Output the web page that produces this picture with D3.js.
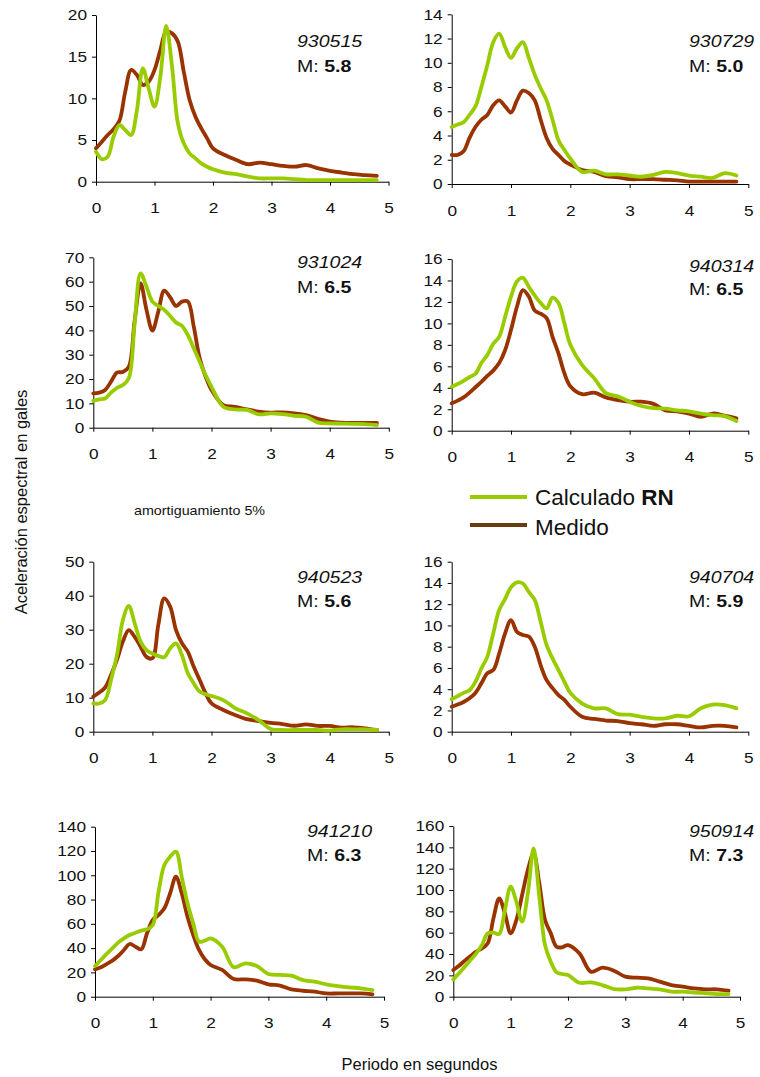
<!DOCTYPE html>
<html>
<head>
<meta charset="utf-8">
<script src="https://cdn.jsdelivr.net/npm/d3@7"></script>
<style>
  body { margin: 0; background: #fff; }
  svg { display: block; }
  text { font-family: "Liberation Sans", Arial, Helvetica, sans-serif; fill: #111; }
</style>
</head>
<body>
<svg id="chart" width="760" height="1077"></svg>
<script>
// ---------------- DATA ----------------
const periods = [0,0.1,0.2,0.3,0.4,0.5,0.6,0.7,0.8,0.9,1.0,1.1,1.2,1.3,1.4,1.5,1.6,1.7,1.8,1.9,2.0,
                 2.2,2.4,2.6,2.8,3.0,3.2,3.4,3.6,3.8,4.0,4.2,4.4,4.6,4.8];
const xTicks = [0,1,2,3,4,5];
const eventIds = ["930515","930729","931024","940314","940523","940704","941210","950914"];
const magnitudes = ["5.8","5.0","6.5","6.5","5.6","5.9","6.3","7.3"];
const yMaxes = [20,14,70,16,50,16,140,160];
const ySteps = [5,2,10,2,10,2,20,20];
const seriesNames = ["Calculado", "Medido"];

const calc930515 = [3.6,2.7,3.0,5.4,6.8,6.2,5.6,8.6,13.6,11.2,9.0,12.6,18.7,13.8,7.0,4.6,3.4,2.8,2.2,1.8,1.5,
                    1.1,0.9,0.6,0.4,0.4,0.4,0.3,0.2,0.2,0.2,0.2,0.2,0.2,0.2];
const med930515  = [4.0,4.8,5.6,6.3,7.3,10.8,13.4,12.8,11.6,12.0,13.4,15.8,18.0,17.8,16.8,13.2,9.8,7.8,6.4,5.2,4.0,
                    3.2,2.6,2.1,2.3,2.1,1.9,1.8,2.0,1.6,1.3,1.1,0.9,0.8,0.7];

const calc930729 = [4.7,4.9,5.1,5.7,6.4,8.0,9.8,11.7,12.4,11.3,10.4,11.2,11.7,10.4,9.0,7.9,6.9,5.3,3.6,2.8,2.1,
                    1.0,1.1,0.8,0.8,0.7,0.6,0.75,1.0,0.9,0.7,0.6,0.5,0.9,0.7];
const med930729  = [2.4,2.4,2.7,3.8,4.7,5.3,5.7,6.5,6.9,6.4,5.9,6.9,7.7,7.5,6.9,5.3,3.8,2.9,2.4,1.9,1.6,
                    1.15,1.0,0.65,0.55,0.4,0.4,0.4,0.35,0.3,0.2,0.2,0.2,0.2,0.2];

const calc931024 = [11.0,11.6,12.0,14.4,16.4,17.5,20.3,42.9,63.4,57.9,51.8,50.0,48.4,45.9,43.2,41.8,38.0,32.6,27.1,21.6,16.8,
                    8.6,7.5,7.3,5.5,5.9,5.6,4.9,4.5,2.1,1.8,1.7,1.6,1.5,1.1];
const med931024  = [14.1,14.4,15.5,18.9,22.6,22.9,25.0,44.0,59.3,48.4,39.9,47.7,56.3,53.6,50.0,51.8,51.8,41.5,28.5,21.0,15.5,
                    9.3,8.6,7.5,6.6,6.2,6.3,5.9,5.2,3.6,2.5,2.1,2.0,2.0,2.0];

const calc940314 = [4.1,4.35,4.65,5.0,5.3,6.3,7.05,8.1,8.75,10.6,12.5,13.9,14.25,13.4,12.6,11.9,11.4,12.4,11.9,10.0,8.0,
                    6.1,4.9,3.5,3.2,2.7,2.3,2.1,2.05,1.9,1.8,1.6,1.45,1.35,0.9];
const med940314  = [2.55,2.8,3.1,3.55,4.05,4.55,5.1,5.6,6.3,7.5,9.4,11.55,13.1,12.5,11.2,10.9,10.5,8.75,7.2,5.35,4.15,
                    3.4,3.55,3.1,2.85,2.7,2.7,2.5,1.9,1.8,1.6,1.3,1.6,1.4,1.15];

const calc940523 = [8.3,8.3,9.3,15.2,22.5,32.8,37.0,31.9,26.5,24.0,23.0,22.3,21.9,24.5,26.0,22.5,17.2,14.2,11.8,11.0,10.5,
                    9.3,6.9,5.4,3.4,0.8,0.5,0.5,0.5,0.5,0.3,0.7,0.7,0.7,0.5];
const med940523  = [10.3,11.5,13.0,16.7,21.1,26.5,29.9,27.9,25.0,22.0,21.6,31.4,39.2,36.8,29.9,26.0,23.5,19.1,15.2,11.3,8.3,
                    6.4,4.9,3.7,3.1,2.6,2.25,1.75,2.15,1.7,1.7,1.2,1.3,1.0,0.5];

const calc940704 = [3.05,3.35,3.65,3.9,4.7,5.95,7.05,9.25,11.45,12.5,13.6,14.05,13.95,13.15,12.4,10.35,8.15,6.9,5.8,4.7,3.65,
                    2.65,2.2,2.2,1.65,1.6,1.4,1.25,1.25,1.5,1.45,2.2,2.55,2.5,2.2];
const med940704  = [2.35,2.55,2.8,3.15,3.65,4.55,5.5,5.8,7.35,9.25,10.5,9.4,9.1,8.95,8.0,6.25,4.85,4.1,3.45,3.0,2.35,
                    1.4,1.2,1.05,1.0,0.8,0.7,0.55,0.7,0.7,0.55,0.4,0.55,0.55,0.4];

const calc941210 = [25.3,30.2,35.2,39.8,44.5,48.1,50.8,52.7,54.4,55.5,59.0,86.5,108.5,115.4,119.5,98.9,76.9,60.4,45.3,46.2,48.1,
                    41.2,24.2,27.5,25.3,18.7,17.9,17.3,13.7,12.4,10.2,8.8,7.7,6.9,5.5];
const med941210  = [22.5,24.2,26.9,29.7,33.5,38.5,43.4,41.2,39.0,52.2,63.2,67.3,72.8,85.2,98.9,85.2,65.9,50.8,38.5,30.8,26.1,
                    22.0,14.6,14.3,13.2,10.2,9.1,6.0,4.9,4.1,2.7,2.7,2.7,2.7,1.9];

const calc950914 = [16.3,21.9,28.1,34.4,40.6,48.4,59.4,60.0,58.8,81.3,103.1,89.0,70.3,96.9,139.0,93.8,48.4,32.8,22.8,21.3,20.3,
                    13.1,13.4,10.9,7.2,6.9,8.4,7.8,6.9,4.7,4.7,3.8,3.4,2.5,2.5];
const med950914  = [25.0,29.0,33.8,38.1,42.2,45.3,50.0,73.4,92.2,78.1,59.4,71.9,95.3,118.8,134.4,106.3,71.9,59.4,46.9,46.3,48.4,
                    40.6,23.4,27.2,24.4,18.8,17.8,17.2,14.1,10.9,9.4,7.8,6.9,6.9,5.6];

const calcSeries = [calc930515, calc930729, calc931024, calc940314, calc940523, calc940704, calc941210, calc950914];
const medSeries  = [med930515, med930729, med931024, med940314, med940523, med940704, med941210, med950914];

// ---------------- LAYOUT / STYLE ----------------
const layout = [
  {x0: 96,    x5: 388.5, y0: 181.7, yT: 15,    tx: 297, ty1: 47,  ty2: 72},
  {x0: 451.7, x5: 748.3, y0: 184,   yT: 14.3,  tx: 689, ty1: 47,  ty2: 72},
  {x0: 93.3,  x5: 388.8, y0: 427.7, yT: 257.3, tx: 297, ty1: 268, ty2: 293},
  {x0: 451.7, x5: 748.3, y0: 430.7, yT: 259,   tx: 689, ty1: 272, ty2: 295},
  {x0: 93.3,  x5: 388.8, y0: 731.7, yT: 561.7, tx: 297, ty1: 583, ty2: 607},
  {x0: 451.7, x5: 748.3, y0: 731.7, yT: 561.7, tx: 689, ty1: 583, ty2: 607},
  {x0: 95,    x5: 384,   y0: 996.7, yT: 826.7, tx: 307, ty1: 837, ty2: 861},
  {x0: 453.3, x5: 740,   y0: 996.7, yT: 826,   tx: 689, ty1: 837, ty2: 861}
];
const GREEN = "#99cc00";
const BROWN = "#993300";
const LEG_BROWN = "#6b3b10";
const SX = 1.15; // horizontal stretch of panel text

const svg = d3.select("#chart");

eventIds.forEach((id, i) => {
  const L = layout[i];
  const x = d3.scaleLinear().domain([0, 5]).range([L.x0, L.x5]);
  const y = d3.scaleLinear().domain([0, yMaxes[i]]).range([L.y0, L.yT]);
  const g = svg.append("g");

  const line = d3.line()
    .x((d, k) => x(periods[k]))
    .y(d => y(d))
    .curve(d3.curveCatmullRom.alpha(0.5));

  // axes
  const xa = g.append("g").attr("transform", `translate(0,${L.y0})`)
    .call(d3.axisBottom(x).tickValues(xTicks).tickSize(4).tickSizeOuter(0).tickPadding(17).tickFormat(d3.format("d")));
  const yTicks = d3.range(0, yMaxes[i] + ySteps[i] / 2, ySteps[i]);
  const ya = g.append("g").attr("transform", `translate(${L.x0},0)`)
    .call(d3.axisLeft(y).tickValues(yTicks).tickSize(4).tickSizeOuter(0).tickPadding(5).tickFormat(d3.format("d")));

  [xa, ya].forEach(a => {
    a.select(".domain").attr("stroke", "#000").attr("stroke-width", 1);
    a.selectAll(".tick line").attr("stroke", "#000");
    a.selectAll(".tick text")
      .style("font-family", '"Liberation Sans", Arial, sans-serif')
      .style("font-size", "15px")
      .attr("fill", "#111");
  });
  ya.selectAll(".tick text").attr("x", -9 / SX).attr("transform", `scale(${SX},1)`);
  xa.selectAll(".tick text").attr("transform", `scale(${SX},1)`);

  // series
  g.append("path").datum(medSeries[i])
    .attr("d", line).attr("fill", "none")
    .attr("stroke", BROWN).attr("stroke-width", 3.8)
    .attr("stroke-linejoin", "round").attr("stroke-linecap", "round");
  g.append("path").datum(calcSeries[i])
    .attr("d", line).attr("fill", "none")
    .attr("stroke", GREEN).attr("stroke-width", 3.8)
    .attr("stroke-linejoin", "round").attr("stroke-linecap", "round");

  // labels
  g.append("text")
    .attr("transform", `translate(${L.tx},${L.ty1}) scale(${SX},1)`)
    .style("font-size", "17px").style("font-style", "italic")
    .text(id);
  const m = g.append("text")
    .attr("transform", `translate(${L.tx},${L.ty2}) scale(${SX},1)`)
    .style("font-size", "17px");
  m.append("tspan").text("M: ");
  m.append("tspan").style("font-weight", "bold").text(magnitudes[i]);
});

// legend
const legend = svg.append("g");
[{name: seriesNames[0], bold: "RN", color: GREEN, y: 497, ty: 505},
 {name: seriesNames[1], bold: "", color: LEG_BROWN, y: 525, ty: 535}].forEach(d => {
  legend.append("line").attr("x1", 470).attr("x2", 527).attr("y1", d.y).attr("y2", d.y)
    .attr("stroke", d.color).attr("stroke-width", 4);
  const t = legend.append("text").attr("x", 535).attr("y", d.ty).style("font-size", "22.5px");
  t.append("tspan").text(d.name + (d.bold ? " " : ""));
  if (d.bold) t.append("tspan").style("font-weight", "bold").text(d.bold);
});

// annotations and axis titles
svg.append("text")
  .attr("transform", "translate(134,515) scale(1.1,1)")
  .style("font-size", "13px")
  .text("amortiguamiento 5%");

svg.append("text")
  .attr("transform", "translate(27,502) rotate(-90)")
  .attr("text-anchor", "middle")
  .style("font-size", "16.5px")
  .text("Aceleración espectral en gales");

svg.append("text")
  .attr("x", 419.5).attr("y", 1070)
  .attr("text-anchor", "middle")
  .style("font-size", "16.5px")
  .text("Periodo en segundos");
</script>
</body>
</html>
